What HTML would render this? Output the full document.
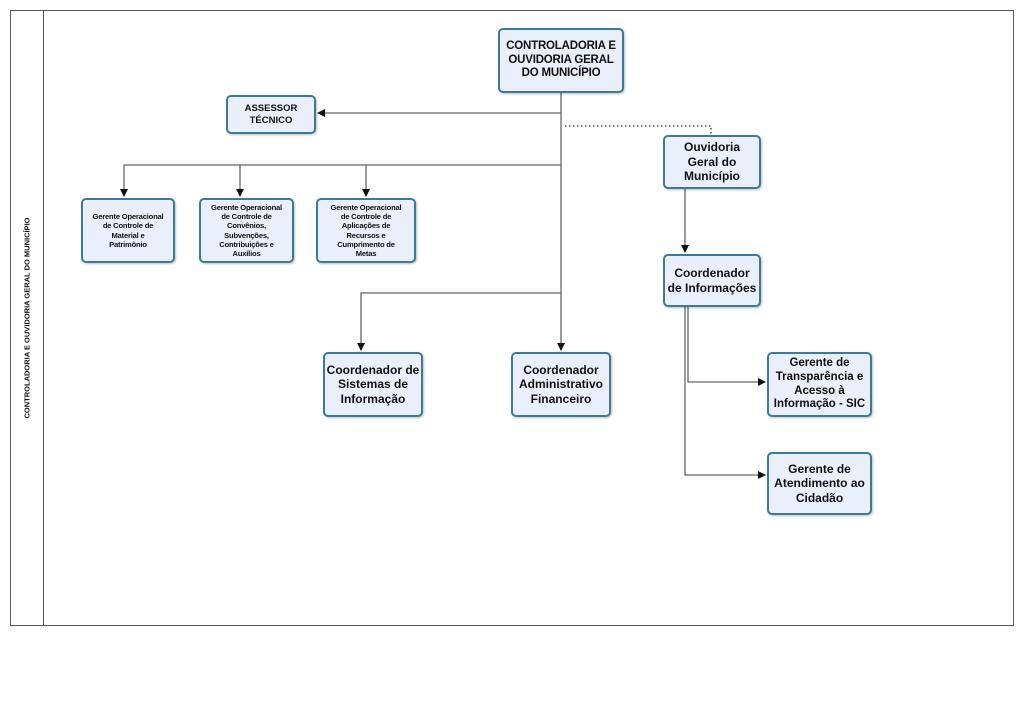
<!DOCTYPE html>
<html><head><meta charset="utf-8"><style>
body{margin:0;width:1024px;height:721px;background:#fff;position:relative;overflow:hidden;font-family:"Liberation Sans","DejaVu Sans",sans-serif;}
.b{position:absolute;box-sizing:border-box;background:#e9effb;border:2px solid #3d7a99;border-radius:5px;display:flex;align-items:center;justify-content:center;text-align:center;font-weight:bold;color:#111;box-shadow:1px 1px 2px rgba(0,0,0,.25);line-height:1.2;white-space:nowrap;}
.s{font-size:7.6px;letter-spacing:-0.2px;line-height:1.22}
.m{font-size:12px}
svg{position:absolute;left:0;top:0}
</style></head><body>
<svg width="1024" height="721">
<defs><marker id="a" markerWidth="8" markerHeight="8" refX="7" refY="4" orient="auto" markerUnits="userSpaceOnUse"><path d="M0,0 L8,4 L0,8z" fill="#111"/></marker></defs>
<rect x="10.5" y="10.5" width="1003" height="615" fill="none" stroke="#555" stroke-width="1"/>
<line x1="43.5" y1="10" x2="43.5" y2="626" stroke="#555"/>
<g stroke="#666" stroke-width="1.3" fill="none">
<line x1="561" y1="93" x2="561" y2="350" marker-end="url(#a)"/>
<line x1="561" y1="113" x2="318" y2="113" marker-end="url(#a)"/>
<path d="M561 165 H124 V196" marker-end="url(#a)"/>
<line x1="240" y1="165" x2="240" y2="196" marker-end="url(#a)"/>
<line x1="366" y1="165" x2="366" y2="196" marker-end="url(#a)"/>
<path d="M561 293 H361 V350" marker-end="url(#a)"/>
<line x1="685" y1="189" x2="685" y2="252" marker-end="url(#a)"/>
<path d="M688 307 V382 H765" marker-end="url(#a)"/>
<path d="M685 307 V475 H765" marker-end="url(#a)"/>
<path d="M565 126 H711 V134" stroke="#333" stroke-dasharray="1.5,2.5"/>
</g>
</svg>
<div style="position:absolute;left:27px;top:318px;transform:translate(-50%,-50%) rotate(-90deg);white-space:nowrap;font-size:7.5px;font-weight:bold;color:#111">CONTROLADORIA E OUVIDORIA GERAL DO MUNICÍPIO</div>
<div class="b" style="left:498px;top:28px;width:126px;height:65px;font-size:11.5px;letter-spacing:-0.2px">CONTROLADORIA E<br>OUVIDORIA GERAL<br>DO MUNICÍPIO</div>
<div class="b" style="left:226px;top:95px;width:90px;height:39px;font-size:9.5px">ASSESSOR<br>TÉCNICO</div>
<div class="b s" style="left:81px;top:198px;width:94px;height:65px">Gerente Operacional<br>de Controle de<br>Material e<br>Patrimônio</div>
<div class="b s" style="left:199px;top:198px;width:95px;height:65px">Gerente Operacional<br>de Controle de<br>Convênios,<br>Subvenções,<br>Contribuições e<br>Auxílios</div>
<div class="b s" style="left:316px;top:198px;width:100px;height:65px">Gerente Operacional<br>de Controle de<br>Aplicações de<br>Recursos e<br>Cumprimento de<br>Metas</div>
<div class="b m" style="left:663px;top:135px;width:98px;height:54px">Ouvidoria<br>Geral do<br>Município</div>
<div class="b m" style="left:663px;top:254px;width:98px;height:53px">Coordenador<br>de Informações</div>
<div class="b m" style="left:323px;top:352px;width:100px;height:65px">Coordenador de<br>Sistemas de<br>Informação</div>
<div class="b m" style="left:511px;top:352px;width:100px;height:65px">Coordenador<br>Administrativo<br>Financeiro</div>
<div class="b m" style="left:767px;top:352px;width:105px;height:65px;font-size:11.5px">Gerente de<br>Transparência e<br>Acesso à<br>Informação - SIC</div>
<div class="b m" style="left:767px;top:452px;width:105px;height:63px">Gerente de<br>Atendimento ao<br>Cidadão</div>
</body></html>
